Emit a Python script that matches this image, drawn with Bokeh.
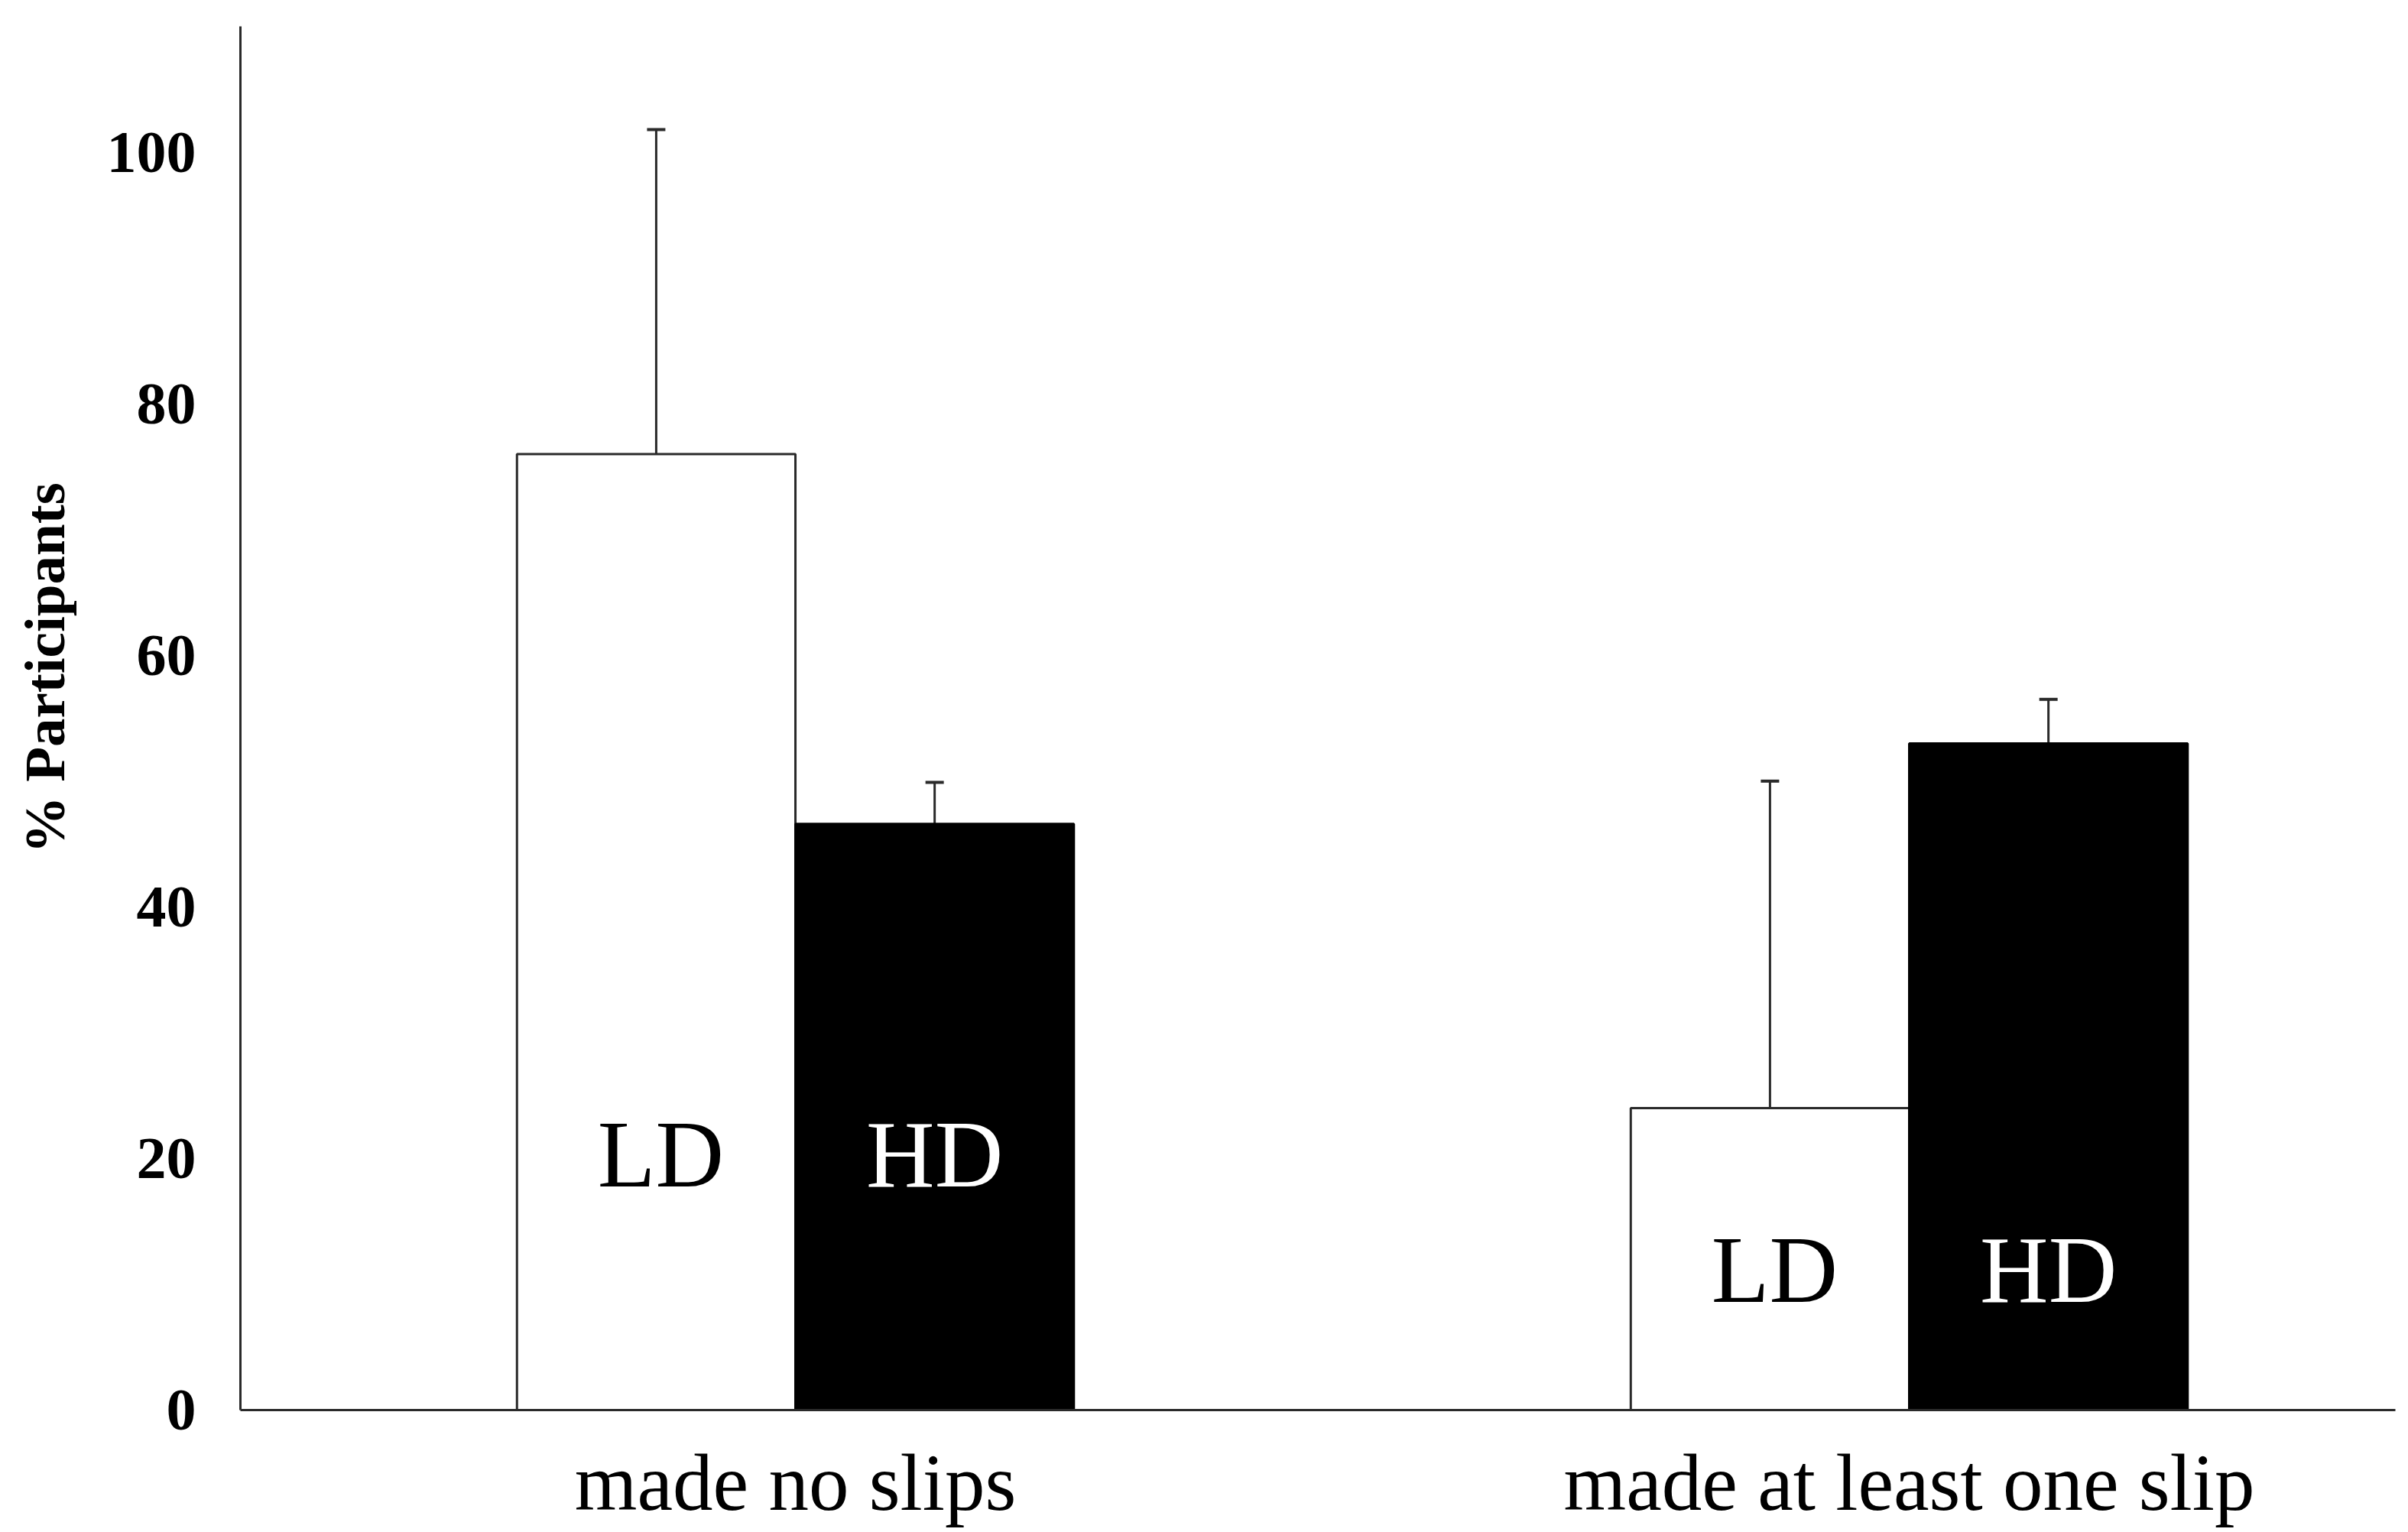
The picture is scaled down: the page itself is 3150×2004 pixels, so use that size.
from bokeh.plotting import figure
from bokeh.models import ColumnDataSource, Whisker, TeeHead, FixedTicker
from bokeh.core.properties import value
from bokeh.embed import file_html
from bokeh.resources import INLINE

# ---- data ----
categories = ["made no slips", "made at least one slip"]
groups = ["LD", "HD"]
ld_values = [76.0, 24.0]
hd_values = [46.6, 53.0]
ld_err = [25.8, 26.0]
hd_err = [3.3, 3.5]
y_ticks = [0, 20, 40, 60, 80, 100]
y_title = "% Participants"
label_levels = [20.3, 11.1]

FONT = "Liberation Serif"
AXIS_COLOR = "#2a2a2a"

xc = [i + 1 for i in range(len(categories))]
bw = 0.25
ld_x = [c - bw / 2 for c in xc]
hd_x = [c + bw / 2 for c in xc]

p = figure(
    frame_width=2819, frame_height=1810,
    x_range=(0.5017, 2.4365), y_range=(0, 110),
    output_backend="svg", toolbar_location=None,
    min_border_left=314, min_border_right=4, min_border_top=34, min_border_bottom=150,
)
p.background_fill_color = "white"
p.border_fill_color = "white"
p.outline_line_color = None
p.xgrid.grid_line_color = None
p.ygrid.grid_line_color = None

ld_src = ColumnDataSource(dict(x=ld_x, top=ld_values, up=[v + e for v, e in zip(ld_values, ld_err)]))
hd_src = ColumnDataSource(dict(x=hd_x, top=hd_values, up=[v + e for v, e in zip(hd_values, hd_err)]))

p.vbar(x="x", top="top", bottom=0, width=bw, source=ld_src,
       fill_color="white", line_color=AXIS_COLOR, line_width=3)
p.vbar(x="x", top="top", bottom=0, width=bw, source=hd_src,
       fill_color="black", line_color="black", line_width=3)

for src in (ld_src, hd_src):
    w = Whisker(base="x", lower="top", upper="up", source=src, dimension="height",
                line_color=AXIS_COLOR, line_width=3,
                upper_head=TeeHead(size=24, line_color=AXIS_COLOR, line_width=4),
                lower_head=None)
    p.add_layout(w)

p.text(x=ld_x, y=label_levels, text=[groups[0]] * len(xc),
       text_font=value(FONT), text_font_size="124px", text_color="black",
       text_align="center", text_baseline="middle", x_offset=6)
p.text(x=hd_x, y=label_levels, text=[groups[1]] * len(xc),
       text_font=value(FONT), text_font_size="124px", text_color="white",
       text_align="center", text_baseline="middle")

# axes
p.xaxis.ticker = FixedTicker(ticks=xc)
p.xaxis.major_label_overrides = {c: lab for c, lab in zip(xc, categories)}
p.xaxis.major_label_text_font = FONT
p.xaxis.major_label_text_font_size = "105px"
p.xaxis.major_label_text_color = "black"
p.xaxis.major_label_standoff = 30
p.xaxis.major_tick_line_color = None
p.xaxis.minor_tick_line_color = None
p.xaxis.axis_line_color = AXIS_COLOR
p.xaxis.axis_line_width = 3

p.yaxis.ticker = FixedTicker(ticks=y_ticks)
p.yaxis.major_label_text_font = FONT
p.yaxis.major_label_text_font_style = "bold"
p.yaxis.major_label_text_font_size = "78px"
p.yaxis.major_label_text_color = "black"
p.yaxis.major_label_standoff = 52
p.yaxis.major_tick_line_color = None
p.yaxis.minor_tick_line_color = None
p.yaxis.axis_line_color = AXIS_COLOR
p.yaxis.axis_line_width = 3
# leading no-break spaces nudge the centred title upward, as in the original
p.yaxis.axis_label = "\u00a0" * 7 + y_title
p.yaxis.axis_label_text_font = FONT
p.yaxis.axis_label_text_font_style = "bold"
p.yaxis.axis_label_text_font_size = "75px"
p.yaxis.axis_label_text_color = "black"
p.yaxis.axis_label_standoff = 37

open("out.html", "w").write(file_html(p, INLINE))
